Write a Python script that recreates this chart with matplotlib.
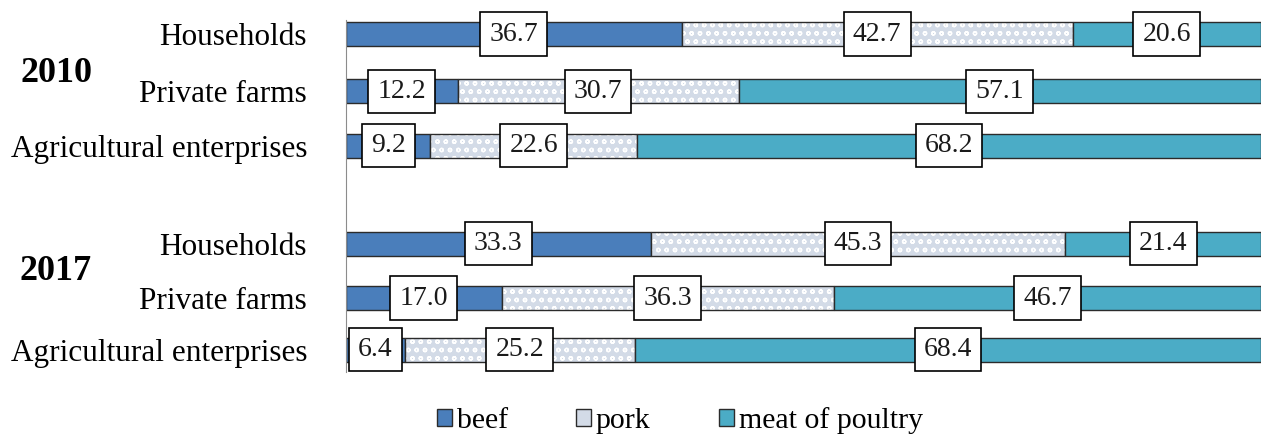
import numpy as np
import matplotlib.pyplot as plt
from matplotlib.patches import Patch

# shares of meat production by type of producer, %
years = ["2010", "2017"]
producers = ["Households", "Private farms", "Agricultural enterprises"]
beef_2010 = [36.7, 12.2, 9.2]
pork_2010 = [42.7, 30.7, 22.6]
poultry_2010 = [20.6, 57.1, 68.2]
beef_2017 = [33.3, 17.0, 6.4]
pork_2017 = [45.3, 36.3, 25.2]
poultry_2017 = [21.4, 46.7, 68.4]

beef = np.array(beef_2010 + beef_2017)
pork = np.array(pork_2010 + pork_2017)
poultry = np.array(poultry_2010 + poultry_2017)
labels = producers + producers

# row positions: two groups of three, with a gap between them
ypos = np.array([0, 1.05, 2.05, 3.85, 4.85, 5.8])
h = 0.44

plt.rcParams['font.family'] = ['Liberation Serif', 'DejaVu Serif']

fig = plt.figure(figsize=(12.61, 4.38), dpi=100)
ax = fig.add_axes([346 / 1261, 1 - 372 / 438, 1 - 346 / 1261, 352 / 438])

beef_col = '#4a7ebb'
pork_col = '#d3dbe7'
poultry_col = '#4bacc6'
edge = '#2b2b2b'

ax.barh(ypos, beef, height=h, color=beef_col, edgecolor=edge, linewidth=1)
# pork: light fill with white circle pattern, then outline on top
ax.barh(ypos, pork, left=beef, height=h, color=pork_col, edgecolor='white',
        hatch='oo', linewidth=0)
ax.barh(ypos, pork, left=beef, height=h, color='none', edgecolor=edge, linewidth=1)
ax.barh(ypos, poultry, left=beef + pork, height=h, color=poultry_col,
        edgecolor=edge, linewidth=1)

box = dict(boxstyle='square,pad=0.33', facecolor='white', edgecolor='black', linewidth=1.2)
for i in range(len(ypos)):
    starts = [0, beef[i], beef[i] + pork[i]]
    for start, val in zip(starts, [beef[i], pork[i], poultry[i]]):
        ax.text(start + val / 2, ypos[i], f"{val:.1f}", ha='center', va='center',
                fontsize=20, color='#1a1a1a', bbox=box)

ax.set_xlim(0, 100)
ax.set_ylim(6.21, -0.26)
ax.set_yticks(ypos)
ax.set_yticklabels(labels, fontsize=22.5)
ax.tick_params(axis='y', length=0, pad=28)
ax.set_xticks([])
for s in ['top', 'right', 'bottom']:
    ax.spines[s].set_visible(False)
ax.spines['left'].set_color('#8c8c8c')

fig.text(56 / 1261, 1 - 73 / 438, years[0], ha='center', va='center',
         fontsize=26, fontweight='bold')
fig.text(56 / 1261, 1 - 271 / 438, years[1], ha='center', va='center',
         fontsize=26, fontweight='bold')

handles = [Patch(facecolor=beef_col, edgecolor=edge, label='beef'),
           Patch(facecolor=pork_col, edgecolor=edge, label='pork'),
           Patch(facecolor=poultry_col, edgecolor=edge, label='meat of poultry')]
fig.legend(handles=handles, loc='center', bbox_to_anchor=(680 / 1261, 1 - 421 / 438),
           ncol=3, frameon=False, fontsize=21.5, handlelength=0.5, handleheight=0.5,
           handletextpad=0.15, columnspacing=2.3)

fig.savefig('out.png', dpi=100)
